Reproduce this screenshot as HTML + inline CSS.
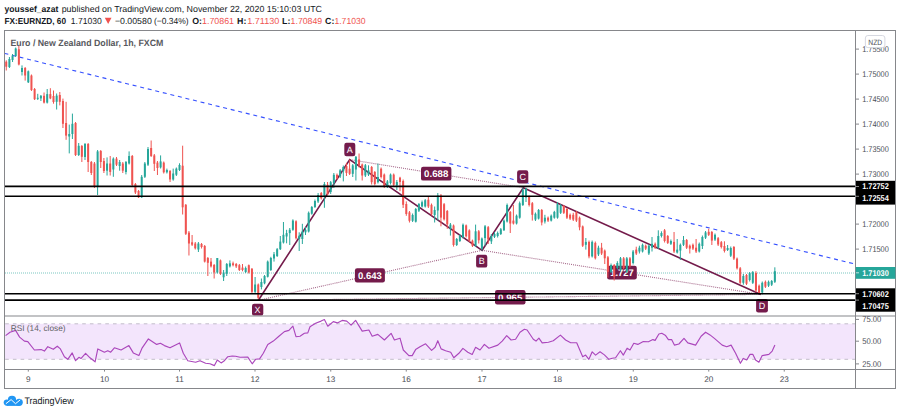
<!DOCTYPE html>
<html><head><meta charset="utf-8"><style>
html,body{margin:0;padding:0;background:#fff;}
body{width:900px;height:414px;overflow:hidden;}
svg{display:block;}
text{font-family:"Liberation Sans", sans-serif;text-rendering:geometricPrecision;}
</style></head><body>
<svg width="900" height="414" viewBox="0 0 900 414">
<rect x="0" y="0" width="900" height="414" fill="#fff"/>

<text x="4.40" y="11.7" font-size="8.8" font-weight="bold" fill="#131722" textLength="53.91" lengthAdjust="spacingAndGlyphs" >youssef_azat</text>
<text x="61.70" y="11.7" font-size="8.8" fill="#131722" textLength="260.29" lengthAdjust="spacingAndGlyphs" >published on TradingView.com, November 22, 2020 15:10:03 UTC</text>
<text x="4.40" y="23.7" font-size="8.8" font-weight="bold" fill="#131722" textLength="61.60" lengthAdjust="spacingAndGlyphs" >FX:EURNZD, 60</text>
<text x="70.80" y="23.7" font-size="8.8" fill="#131722" textLength="31.10" lengthAdjust="spacingAndGlyphs" >1.71030</text>
<polygon points="104.8,17.7 111.5,17.7 108.15,24.1" fill="#ef5350"/>
<text x="114.90" y="23.7" font-size="8.8" fill="#131722" textLength="36.89" lengthAdjust="spacingAndGlyphs" >−0.00580</text>
<text x="154.00" y="23.7" font-size="8.8" fill="#131722" textLength="34.60" lengthAdjust="spacingAndGlyphs" >(−0.34%)</text>
<text x="192.2" y="23.7" font-size="8.8" fill="#131722" font-weight="bold">O:</text>
<text x="202.00" y="23.7" font-size="8.8" fill="#ef5350" textLength="32.00" lengthAdjust="spacingAndGlyphs" >1.70861</text>
<text x="237.1" y="23.7" font-size="8.8" fill="#131722" font-weight="bold">H:</text>
<text x="247.30" y="23.7" font-size="8.8" fill="#ef5350" textLength="32.01" lengthAdjust="spacingAndGlyphs" >1.71130</text>
<text x="282.1" y="23.7" font-size="8.8" fill="#131722" font-weight="bold">L:</text>
<text x="290.60" y="23.7" font-size="8.8" fill="#ef5350" textLength="31.60" lengthAdjust="spacingAndGlyphs" >1.70849</text>
<text x="325.1" y="23.7" font-size="8.8" fill="#131722" font-weight="bold">C:</text>
<text x="334.40" y="23.7" font-size="8.8" fill="#ef5350" textLength="31.20" lengthAdjust="spacingAndGlyphs" >1.71030</text>
<rect x="4.5" y="323.8" width="851" height="35.5" fill="#f3e5fc"/>
<line x1="4.5" y1="323.8" x2="855.5" y2="323.8" stroke="#c2bdca" stroke-width="1" stroke-dasharray="3.6 4.1" stroke-dashoffset="-0.7"/>
<line x1="4.5" y1="359.3" x2="855.5" y2="359.3" stroke="#c2bdca" stroke-width="1" stroke-dasharray="3.6 4.1" stroke-dashoffset="-0.7"/>
<line x1="5" y1="53.5" x2="855.5" y2="264.2" stroke="#3550ff" stroke-width="1.1" stroke-dasharray="4 3.77" stroke-dashoffset="0.6"/>
<line x1="5" y1="273" x2="855" y2="273" stroke="#26a69a" stroke-width="1.1" stroke-dasharray="1 1" opacity="0.6"/>
<line x1="258.4" y1="300.3" x2="482.1" y2="250.3" stroke="#8a3a66" stroke-width="1.1" stroke-dasharray="1 1" opacity="0.75"/>
<line x1="349.7" y1="159.6" x2="523.3" y2="187.7" stroke="#8a3a66" stroke-width="1.1" stroke-dasharray="1 1" opacity="0.75"/>
<line x1="482.1" y1="250.3" x2="760.8" y2="294.4" stroke="#8a3a66" stroke-width="1.1" stroke-dasharray="1 1" opacity="0.75"/>
<line x1="258.4" y1="300.3" x2="760.8" y2="294.4" stroke="#8a3a66" stroke-width="1.1" stroke-dasharray="1 1" opacity="0.75"/>
<polyline points="258.4,300.3 349.7,159.6 482.1,250.3 523.3,187.7 760.8,294.4" fill="none" stroke="#741b4b" stroke-width="1.6" stroke-linejoin="miter"/>
<rect x="421" y="166.7" width="30.4" height="13.9" rx="2.2" fill="#741b4b"/>
<text x="424.10" y="177.05" font-size="9.6" font-weight="bold" fill="#fff" textLength="24.18" lengthAdjust="spacingAndGlyphs" >0.688</text>
<rect x="354.9" y="268.3" width="30.0" height="14.2" rx="2.2" fill="#741b4b"/>
<text x="358.00" y="278.8" font-size="9.6" font-weight="bold" fill="#fff" textLength="23.78" lengthAdjust="spacingAndGlyphs" >0.643</text>
<rect x="495" y="290" width="30.5" height="14.5" rx="2.2" fill="#741b4b"/>
<text x="498.10" y="300.65" font-size="9.6" font-weight="bold" fill="#fff" textLength="24.28" lengthAdjust="spacingAndGlyphs" >0.965</text>
<rect x="607.1" y="265.8" width="29.7" height="13.6" rx="2.2" fill="#741b4b"/>
<text x="610.20" y="276.0" font-size="9.6" font-weight="bold" fill="#fff" textLength="23.48" lengthAdjust="spacingAndGlyphs" >1.727</text>
<rect x="252" y="303.8" width="11.3" height="11.8" rx="2.2" fill="#741b4b"/>
<text x="257.6" y="312.8" font-size="9" fill="#fff" text-anchor="middle">X</text>
<rect x="344.3" y="142.7" width="11.0" height="13.5" rx="2.2" fill="#741b4b"/>
<text x="349.8" y="152.5" font-size="9" fill="#fff" text-anchor="middle">A</text>
<rect x="476.1" y="254.7" width="11.2" height="12.9" rx="2.2" fill="#741b4b"/>
<text x="481.7" y="264.2" font-size="9" fill="#fff" text-anchor="middle">B</text>
<rect x="517.1" y="170.2" width="11.2" height="13.2" rx="2.2" fill="#741b4b"/>
<text x="522.7" y="179.9" font-size="9" fill="#fff" text-anchor="middle">C</text>
<rect x="756.1" y="299.1" width="11.8" height="13.4" rx="2.2" fill="#741b4b"/>
<text x="762.0" y="308.9" font-size="9" fill="#fff" text-anchor="middle">D</text>
<line x1="6.25" y1="60.3" x2="6.25" y2="70.5" stroke="#ef5350" stroke-width="1"/>
<rect x="5.25" y="61.7" width="2.0" height="5.0" fill="#ef5350"/>
<line x1="9.40" y1="57.0" x2="9.40" y2="68.0" stroke="#26a69a" stroke-width="1"/>
<rect x="8.40" y="59.0" width="2.0" height="8.0" fill="#26a69a"/>
<line x1="12.55" y1="54.0" x2="12.55" y2="62.0" stroke="#26a69a" stroke-width="1"/>
<rect x="11.55" y="55.6" width="2.0" height="4.4" fill="#26a69a"/>
<line x1="15.70" y1="47.5" x2="15.70" y2="57.0" stroke="#26a69a" stroke-width="1"/>
<rect x="14.70" y="48.5" width="2.0" height="7.5" fill="#26a69a"/>
<line x1="18.85" y1="46.0" x2="18.85" y2="65.4" stroke="#ef5350" stroke-width="1"/>
<rect x="17.85" y="49.3" width="2.0" height="15.2" fill="#ef5350"/>
<line x1="22.00" y1="65.4" x2="22.00" y2="75.5" stroke="#26a69a" stroke-width="1"/>
<rect x="21.00" y="68.0" width="2.0" height="4.0" fill="#26a69a"/>
<line x1="25.15" y1="67.0" x2="25.15" y2="80.6" stroke="#ef5350" stroke-width="1"/>
<rect x="24.15" y="68.0" width="2.0" height="7.5" fill="#ef5350"/>
<line x1="28.30" y1="70.5" x2="28.30" y2="83.0" stroke="#26a69a" stroke-width="1"/>
<rect x="27.30" y="71.3" width="2.0" height="11.0" fill="#26a69a"/>
<line x1="31.45" y1="74.5" x2="31.45" y2="91.0" stroke="#ef5350" stroke-width="1"/>
<rect x="30.45" y="75.5" width="2.0" height="14.5" fill="#ef5350"/>
<line x1="34.60" y1="88.0" x2="34.60" y2="100.0" stroke="#ef5350" stroke-width="1"/>
<rect x="33.60" y="89.0" width="2.0" height="10.2" fill="#ef5350"/>
<line x1="37.75" y1="93.8" x2="37.75" y2="100.0" stroke="#26a69a" stroke-width="1"/>
<rect x="36.75" y="97.8" width="2.0" height="1.0" fill="#26a69a"/>
<line x1="40.90" y1="95.0" x2="40.90" y2="101.0" stroke="#26a69a" stroke-width="1"/>
<rect x="39.90" y="95.8" width="2.0" height="2.6" fill="#26a69a"/>
<line x1="44.05" y1="92.5" x2="44.05" y2="103.5" stroke="#ef5350" stroke-width="1"/>
<rect x="43.05" y="95.8" width="2.0" height="6.8" fill="#ef5350"/>
<line x1="47.20" y1="89.0" x2="47.20" y2="103.5" stroke="#26a69a" stroke-width="1"/>
<rect x="46.20" y="94.1" width="2.0" height="8.5" fill="#26a69a"/>
<line x1="50.35" y1="88.2" x2="50.35" y2="99.2" stroke="#ef5350" stroke-width="1"/>
<rect x="49.35" y="94.1" width="2.0" height="4.3" fill="#ef5350"/>
<line x1="53.50" y1="90.5" x2="53.50" y2="103.7" stroke="#ef5350" stroke-width="1"/>
<rect x="52.50" y="96.0" width="2.0" height="6.0" fill="#ef5350"/>
<line x1="56.65" y1="93.5" x2="56.65" y2="109.5" stroke="#26a69a" stroke-width="1"/>
<rect x="55.65" y="95.6" width="2.0" height="6.2" fill="#26a69a"/>
<line x1="59.80" y1="92.0" x2="59.80" y2="105.4" stroke="#ef5350" stroke-width="1"/>
<rect x="58.80" y="95.0" width="2.0" height="6.8" fill="#ef5350"/>
<line x1="62.95" y1="98.6" x2="62.95" y2="128.0" stroke="#ef5350" stroke-width="1"/>
<rect x="61.95" y="101.0" width="2.0" height="22.8" fill="#ef5350"/>
<line x1="66.10" y1="101.8" x2="66.10" y2="139.8" stroke="#ef5350" stroke-width="1"/>
<rect x="65.10" y="123.0" width="2.0" height="12.6" fill="#ef5350"/>
<line x1="69.25" y1="124.6" x2="69.25" y2="153.4" stroke="#26a69a" stroke-width="1"/>
<rect x="68.25" y="134.0" width="2.0" height="2.5" fill="#26a69a"/>
<line x1="72.40" y1="113.6" x2="72.40" y2="139.0" stroke="#26a69a" stroke-width="1"/>
<rect x="71.40" y="123.8" width="2.0" height="10.2" fill="#26a69a"/>
<line x1="75.55" y1="122.0" x2="75.55" y2="156.0" stroke="#ef5350" stroke-width="1"/>
<rect x="74.55" y="123.0" width="2.0" height="32.0" fill="#ef5350"/>
<line x1="78.70" y1="143.0" x2="78.70" y2="156.0" stroke="#26a69a" stroke-width="1"/>
<rect x="77.70" y="145.8" width="2.0" height="9.2" fill="#26a69a"/>
<line x1="81.85" y1="145.0" x2="81.85" y2="162.0" stroke="#ef5350" stroke-width="1"/>
<rect x="80.85" y="146.0" width="2.0" height="10.8" fill="#ef5350"/>
<line x1="85.00" y1="143.0" x2="85.00" y2="160.0" stroke="#26a69a" stroke-width="1"/>
<rect x="84.00" y="144.0" width="2.0" height="13.0" fill="#26a69a"/>
<line x1="88.15" y1="143.0" x2="88.15" y2="172.0" stroke="#ef5350" stroke-width="1"/>
<rect x="87.15" y="144.0" width="2.0" height="18.0" fill="#ef5350"/>
<line x1="91.30" y1="161.0" x2="91.30" y2="175.0" stroke="#ef5350" stroke-width="1"/>
<rect x="90.30" y="162.0" width="2.0" height="11.0" fill="#ef5350"/>
<line x1="94.45" y1="162.0" x2="94.45" y2="188.0" stroke="#ef5350" stroke-width="1"/>
<rect x="93.45" y="163.5" width="2.0" height="22.9" fill="#ef5350"/>
<line x1="97.60" y1="150.0" x2="97.60" y2="195.0" stroke="#26a69a" stroke-width="1"/>
<rect x="96.60" y="151.4" width="2.0" height="35.0" fill="#26a69a"/>
<line x1="100.75" y1="150.0" x2="100.75" y2="168.0" stroke="#ef5350" stroke-width="1"/>
<rect x="99.75" y="151.0" width="2.0" height="11.0" fill="#ef5350"/>
<line x1="103.90" y1="158.0" x2="103.90" y2="173.0" stroke="#ef5350" stroke-width="1"/>
<rect x="102.90" y="161.0" width="2.0" height="10.0" fill="#ef5350"/>
<line x1="107.05" y1="157.4" x2="107.05" y2="175.5" stroke="#26a69a" stroke-width="1"/>
<rect x="106.05" y="163.5" width="2.0" height="7.2" fill="#26a69a"/>
<line x1="110.20" y1="156.0" x2="110.20" y2="175.5" stroke="#ef5350" stroke-width="1"/>
<rect x="109.20" y="163.5" width="2.0" height="8.4" fill="#ef5350"/>
<line x1="113.35" y1="157.4" x2="113.35" y2="176.8" stroke="#26a69a" stroke-width="1"/>
<rect x="112.35" y="158.6" width="2.0" height="10.9" fill="#26a69a"/>
<line x1="116.50" y1="157.0" x2="116.50" y2="166.0" stroke="#ef5350" stroke-width="1"/>
<rect x="115.50" y="158.6" width="2.0" height="6.1" fill="#ef5350"/>
<line x1="119.65" y1="160.0" x2="119.65" y2="170.7" stroke="#26a69a" stroke-width="1"/>
<rect x="118.65" y="162.0" width="2.0" height="4.0" fill="#26a69a"/>
<line x1="122.80" y1="162.0" x2="122.80" y2="173.0" stroke="#ef5350" stroke-width="1"/>
<rect x="121.80" y="163.5" width="2.0" height="7.2" fill="#ef5350"/>
<line x1="125.95" y1="161.0" x2="125.95" y2="174.4" stroke="#26a69a" stroke-width="1"/>
<rect x="124.95" y="162.0" width="2.0" height="10.0" fill="#26a69a"/>
<line x1="129.10" y1="151.4" x2="129.10" y2="164.5" stroke="#26a69a" stroke-width="1"/>
<rect x="128.10" y="156.0" width="2.0" height="7.5" fill="#26a69a"/>
<line x1="132.25" y1="155.0" x2="132.25" y2="186.4" stroke="#ef5350" stroke-width="1"/>
<rect x="131.25" y="156.0" width="2.0" height="29.0" fill="#ef5350"/>
<line x1="135.40" y1="183.0" x2="135.40" y2="194.0" stroke="#ef5350" stroke-width="1"/>
<rect x="134.40" y="184.0" width="2.0" height="8.5" fill="#ef5350"/>
<line x1="138.55" y1="190.0" x2="138.55" y2="198.0" stroke="#ef5350" stroke-width="1"/>
<rect x="137.55" y="191.0" width="2.0" height="6.3" fill="#ef5350"/>
<line x1="141.70" y1="175.0" x2="141.70" y2="198.0" stroke="#26a69a" stroke-width="1"/>
<rect x="140.70" y="176.8" width="2.0" height="20.5" fill="#26a69a"/>
<line x1="144.85" y1="162.0" x2="144.85" y2="178.0" stroke="#26a69a" stroke-width="1"/>
<rect x="143.85" y="163.5" width="2.0" height="13.3" fill="#26a69a"/>
<line x1="148.00" y1="147.0" x2="148.00" y2="166.0" stroke="#26a69a" stroke-width="1"/>
<rect x="147.00" y="149.0" width="2.0" height="15.7" fill="#26a69a"/>
<line x1="151.15" y1="140.5" x2="151.15" y2="157.0" stroke="#ef5350" stroke-width="1"/>
<rect x="150.15" y="148.0" width="2.0" height="8.0" fill="#ef5350"/>
<line x1="154.30" y1="154.0" x2="154.30" y2="171.0" stroke="#ef5350" stroke-width="1"/>
<rect x="153.30" y="155.4" width="2.0" height="8.4" fill="#ef5350"/>
<line x1="157.45" y1="161.0" x2="157.45" y2="175.0" stroke="#ef5350" stroke-width="1"/>
<rect x="156.45" y="162.6" width="2.0" height="5.4" fill="#ef5350"/>
<line x1="160.60" y1="155.4" x2="160.60" y2="168.5" stroke="#26a69a" stroke-width="1"/>
<rect x="159.60" y="161.4" width="2.0" height="6.0" fill="#26a69a"/>
<line x1="163.75" y1="161.5" x2="163.75" y2="173.5" stroke="#ef5350" stroke-width="1"/>
<rect x="162.75" y="162.6" width="2.0" height="9.7" fill="#ef5350"/>
<line x1="166.90" y1="168.6" x2="166.90" y2="173.5" stroke="#26a69a" stroke-width="1"/>
<rect x="165.90" y="170.0" width="2.0" height="2.3" fill="#26a69a"/>
<line x1="170.05" y1="170.0" x2="170.05" y2="182.0" stroke="#ef5350" stroke-width="1"/>
<rect x="169.05" y="171.0" width="2.0" height="8.5" fill="#ef5350"/>
<line x1="173.20" y1="168.6" x2="173.20" y2="180.7" stroke="#26a69a" stroke-width="1"/>
<rect x="172.20" y="173.5" width="2.0" height="6.0" fill="#26a69a"/>
<line x1="176.35" y1="167.5" x2="176.35" y2="176.0" stroke="#26a69a" stroke-width="1"/>
<rect x="175.35" y="168.6" width="2.0" height="6.1" fill="#26a69a"/>
<line x1="179.50" y1="163.3" x2="179.50" y2="171.0" stroke="#26a69a" stroke-width="1"/>
<rect x="178.50" y="165.0" width="2.0" height="5.0" fill="#26a69a"/>
<line x1="182.65" y1="145.7" x2="182.65" y2="214.5" stroke="#ef5350" stroke-width="1"/>
<rect x="181.65" y="165.7" width="2.0" height="41.6" fill="#ef5350"/>
<line x1="185.80" y1="204.0" x2="185.80" y2="235.0" stroke="#ef5350" stroke-width="1"/>
<rect x="184.80" y="204.8" width="2.0" height="29.0" fill="#ef5350"/>
<line x1="188.95" y1="231.0" x2="188.95" y2="255.5" stroke="#ef5350" stroke-width="1"/>
<rect x="187.95" y="232.6" width="2.0" height="10.9" fill="#ef5350"/>
<line x1="192.10" y1="235.0" x2="192.10" y2="246.0" stroke="#ef5350" stroke-width="1"/>
<rect x="191.10" y="242.3" width="2.0" height="2.4" fill="#ef5350"/>
<line x1="195.25" y1="242.0" x2="195.25" y2="249.5" stroke="#ef5350" stroke-width="1"/>
<rect x="194.25" y="243.5" width="2.0" height="4.8" fill="#ef5350"/>
<line x1="198.40" y1="242.0" x2="198.40" y2="252.0" stroke="#26a69a" stroke-width="1"/>
<rect x="197.40" y="243.5" width="2.0" height="6.0" fill="#26a69a"/>
<line x1="201.55" y1="243.0" x2="201.55" y2="248.5" stroke="#ef5350" stroke-width="1"/>
<rect x="200.55" y="244.0" width="2.0" height="3.0" fill="#ef5350"/>
<line x1="204.70" y1="245.0" x2="204.70" y2="262.5" stroke="#ef5350" stroke-width="1"/>
<rect x="203.70" y="246.0" width="2.0" height="15.6" fill="#ef5350"/>
<line x1="207.85" y1="257.0" x2="207.85" y2="276.0" stroke="#ef5350" stroke-width="1"/>
<rect x="206.85" y="258.0" width="2.0" height="4.8" fill="#ef5350"/>
<line x1="211.00" y1="258.0" x2="211.00" y2="267.5" stroke="#ef5350" stroke-width="1"/>
<rect x="210.00" y="261.6" width="2.0" height="4.8" fill="#ef5350"/>
<line x1="214.15" y1="264.0" x2="214.15" y2="278.5" stroke="#ef5350" stroke-width="1"/>
<rect x="213.15" y="265.0" width="2.0" height="7.5" fill="#ef5350"/>
<line x1="217.30" y1="258.0" x2="217.30" y2="273.5" stroke="#26a69a" stroke-width="1"/>
<rect x="216.30" y="258.0" width="2.0" height="14.5" fill="#26a69a"/>
<line x1="220.45" y1="259.5" x2="220.45" y2="275.0" stroke="#ef5350" stroke-width="1"/>
<rect x="219.45" y="260.4" width="2.0" height="13.3" fill="#ef5350"/>
<line x1="223.60" y1="270.0" x2="223.60" y2="281.0" stroke="#26a69a" stroke-width="1"/>
<rect x="222.60" y="272.5" width="2.0" height="4.8" fill="#26a69a"/>
<line x1="226.75" y1="263.0" x2="226.75" y2="276.0" stroke="#26a69a" stroke-width="1"/>
<rect x="225.75" y="264.0" width="2.0" height="9.7" fill="#26a69a"/>
<line x1="229.90" y1="260.4" x2="229.90" y2="267.5" stroke="#26a69a" stroke-width="1"/>
<rect x="228.90" y="263.3" width="2.0" height="3.1" fill="#26a69a"/>
<line x1="233.05" y1="261.6" x2="233.05" y2="266.4" stroke="#ef5350" stroke-width="1"/>
<rect x="232.05" y="263.3" width="2.0" height="1.9" fill="#ef5350"/>
<line x1="236.20" y1="263.0" x2="236.20" y2="268.0" stroke="#ef5350" stroke-width="1"/>
<rect x="235.20" y="264.0" width="2.0" height="2.4" fill="#ef5350"/>
<line x1="239.35" y1="264.0" x2="239.35" y2="271.0" stroke="#ef5350" stroke-width="1"/>
<rect x="238.35" y="265.2" width="2.0" height="4.8" fill="#ef5350"/>
<line x1="242.50" y1="264.0" x2="242.50" y2="271.3" stroke="#ef5350" stroke-width="1"/>
<rect x="241.50" y="267.6" width="2.0" height="2.4" fill="#ef5350"/>
<line x1="245.65" y1="266.5" x2="245.65" y2="273.0" stroke="#26a69a" stroke-width="1"/>
<rect x="244.65" y="268.0" width="2.0" height="4.0" fill="#26a69a"/>
<line x1="248.80" y1="264.5" x2="248.80" y2="273.5" stroke="#ef5350" stroke-width="1"/>
<rect x="247.80" y="265.2" width="2.0" height="7.3" fill="#ef5350"/>
<line x1="251.95" y1="268.0" x2="251.95" y2="293.0" stroke="#ef5350" stroke-width="1"/>
<rect x="250.95" y="268.8" width="2.0" height="23.0" fill="#ef5350"/>
<line x1="255.10" y1="277.0" x2="255.10" y2="293.0" stroke="#26a69a" stroke-width="1"/>
<rect x="254.10" y="284.5" width="2.0" height="7.3" fill="#26a69a"/>
<line x1="258.25" y1="283.5" x2="258.25" y2="300.3" stroke="#ef5350" stroke-width="1"/>
<rect x="257.25" y="284.5" width="2.0" height="13.3" fill="#ef5350"/>
<line x1="261.40" y1="278.5" x2="261.40" y2="289.4" stroke="#26a69a" stroke-width="1"/>
<rect x="260.40" y="282.0" width="2.0" height="5.0" fill="#26a69a"/>
<line x1="264.55" y1="275.0" x2="264.55" y2="284.3" stroke="#26a69a" stroke-width="1"/>
<rect x="263.55" y="276.0" width="2.0" height="7.3" fill="#26a69a"/>
<line x1="267.70" y1="260.5" x2="267.70" y2="277.5" stroke="#26a69a" stroke-width="1"/>
<rect x="266.70" y="261.6" width="2.0" height="15.2" fill="#26a69a"/>
<line x1="270.85" y1="256.8" x2="270.85" y2="271.0" stroke="#26a69a" stroke-width="1"/>
<rect x="269.85" y="258.0" width="2.0" height="12.0" fill="#26a69a"/>
<line x1="274.00" y1="252.0" x2="274.00" y2="261.6" stroke="#26a69a" stroke-width="1"/>
<rect x="273.00" y="254.3" width="2.0" height="4.2" fill="#26a69a"/>
<line x1="277.15" y1="248.0" x2="277.15" y2="257.0" stroke="#26a69a" stroke-width="1"/>
<rect x="276.15" y="249.2" width="2.0" height="6.8" fill="#26a69a"/>
<line x1="280.30" y1="236.0" x2="280.30" y2="250.0" stroke="#26a69a" stroke-width="1"/>
<rect x="279.30" y="241.6" width="2.0" height="7.6" fill="#26a69a"/>
<line x1="283.45" y1="222.0" x2="283.45" y2="243.5" stroke="#26a69a" stroke-width="1"/>
<rect x="282.45" y="234.8" width="2.0" height="7.7" fill="#26a69a"/>
<line x1="286.60" y1="229.8" x2="286.60" y2="243.3" stroke="#26a69a" stroke-width="1"/>
<rect x="285.60" y="233.1" width="2.0" height="3.4" fill="#26a69a"/>
<line x1="289.75" y1="228.0" x2="289.75" y2="245.0" stroke="#26a69a" stroke-width="1"/>
<rect x="288.75" y="229.8" width="2.0" height="3.3" fill="#26a69a"/>
<line x1="292.90" y1="219.3" x2="292.90" y2="230.8" stroke="#26a69a" stroke-width="1"/>
<rect x="291.90" y="220.5" width="2.0" height="9.3" fill="#26a69a"/>
<line x1="296.05" y1="220.3" x2="296.05" y2="239.5" stroke="#ef5350" stroke-width="1"/>
<rect x="295.05" y="221.3" width="2.0" height="16.9" fill="#ef5350"/>
<line x1="299.20" y1="232.3" x2="299.20" y2="251.0" stroke="#26a69a" stroke-width="1"/>
<rect x="298.20" y="235.7" width="2.0" height="3.3" fill="#26a69a"/>
<line x1="302.35" y1="223.8" x2="302.35" y2="244.0" stroke="#26a69a" stroke-width="1"/>
<rect x="301.35" y="231.5" width="2.0" height="7.5" fill="#26a69a"/>
<line x1="305.50" y1="227.0" x2="305.50" y2="235.0" stroke="#26a69a" stroke-width="1"/>
<rect x="304.50" y="229.8" width="2.0" height="2.5" fill="#26a69a"/>
<line x1="308.65" y1="211.5" x2="308.65" y2="232.5" stroke="#26a69a" stroke-width="1"/>
<rect x="307.65" y="212.8" width="2.0" height="18.7" fill="#26a69a"/>
<line x1="311.80" y1="206.0" x2="311.80" y2="214.7" stroke="#26a69a" stroke-width="1"/>
<rect x="310.80" y="207.0" width="2.0" height="6.7" fill="#26a69a"/>
<line x1="314.95" y1="199.5" x2="314.95" y2="208.0" stroke="#26a69a" stroke-width="1"/>
<rect x="313.95" y="201.0" width="2.0" height="6.0" fill="#26a69a"/>
<line x1="318.10" y1="193.0" x2="318.10" y2="203.0" stroke="#26a69a" stroke-width="1"/>
<rect x="317.10" y="195.0" width="2.0" height="6.5" fill="#26a69a"/>
<line x1="321.25" y1="192.0" x2="321.25" y2="199.5" stroke="#ef5350" stroke-width="1"/>
<rect x="320.25" y="193.0" width="2.0" height="5.3" fill="#ef5350"/>
<line x1="324.40" y1="182.0" x2="324.40" y2="207.8" stroke="#26a69a" stroke-width="1"/>
<rect x="323.40" y="184.0" width="2.0" height="13.0" fill="#26a69a"/>
<line x1="327.55" y1="182.0" x2="327.55" y2="195.5" stroke="#ef5350" stroke-width="1"/>
<rect x="326.55" y="184.7" width="2.0" height="9.6" fill="#ef5350"/>
<line x1="330.70" y1="181.0" x2="330.70" y2="194.0" stroke="#26a69a" stroke-width="1"/>
<rect x="329.70" y="182.2" width="2.0" height="9.8" fill="#26a69a"/>
<line x1="333.85" y1="173.0" x2="333.85" y2="188.0" stroke="#26a69a" stroke-width="1"/>
<rect x="332.85" y="174.8" width="2.0" height="8.2" fill="#26a69a"/>
<line x1="337.00" y1="173.5" x2="337.00" y2="179.5" stroke="#ef5350" stroke-width="1"/>
<rect x="336.00" y="174.8" width="2.0" height="3.5" fill="#ef5350"/>
<line x1="340.15" y1="169.0" x2="340.15" y2="178.0" stroke="#26a69a" stroke-width="1"/>
<rect x="339.15" y="170.3" width="2.0" height="6.2" fill="#26a69a"/>
<line x1="343.30" y1="165.5" x2="343.30" y2="181.4" stroke="#26a69a" stroke-width="1"/>
<rect x="342.30" y="167.0" width="2.0" height="4.2" fill="#26a69a"/>
<line x1="346.45" y1="162.8" x2="346.45" y2="176.0" stroke="#ef5350" stroke-width="1"/>
<rect x="345.45" y="166.0" width="2.0" height="6.9" fill="#ef5350"/>
<line x1="349.60" y1="159.6" x2="349.60" y2="175.0" stroke="#ef5350" stroke-width="1"/>
<rect x="348.60" y="168.7" width="2.0" height="5.1" fill="#ef5350"/>
<line x1="352.75" y1="164.0" x2="352.75" y2="177.0" stroke="#26a69a" stroke-width="1"/>
<rect x="351.75" y="165.3" width="2.0" height="8.5" fill="#26a69a"/>
<line x1="355.90" y1="156.0" x2="355.90" y2="180.5" stroke="#26a69a" stroke-width="1"/>
<rect x="354.90" y="156.8" width="2.0" height="12.7" fill="#26a69a"/>
<line x1="359.05" y1="153.5" x2="359.05" y2="167.5" stroke="#ef5350" stroke-width="1"/>
<rect x="358.05" y="159.4" width="2.0" height="5.9" fill="#ef5350"/>
<line x1="362.20" y1="163.5" x2="362.20" y2="180.5" stroke="#ef5350" stroke-width="1"/>
<rect x="361.20" y="164.5" width="2.0" height="11.0" fill="#ef5350"/>
<line x1="365.35" y1="164.0" x2="365.35" y2="177.0" stroke="#26a69a" stroke-width="1"/>
<rect x="364.35" y="165.3" width="2.0" height="10.2" fill="#26a69a"/>
<line x1="368.50" y1="165.3" x2="368.50" y2="176.0" stroke="#26a69a" stroke-width="1"/>
<rect x="367.50" y="170.4" width="2.0" height="4.2" fill="#26a69a"/>
<line x1="371.65" y1="166.0" x2="371.65" y2="184.5" stroke="#ef5350" stroke-width="1"/>
<rect x="370.65" y="167.0" width="2.0" height="15.2" fill="#ef5350"/>
<line x1="374.80" y1="171.0" x2="374.80" y2="185.5" stroke="#ef5350" stroke-width="1"/>
<rect x="373.80" y="172.0" width="2.0" height="12.0" fill="#ef5350"/>
<line x1="377.95" y1="163.6" x2="377.95" y2="183.5" stroke="#26a69a" stroke-width="1"/>
<rect x="376.95" y="177.0" width="2.0" height="5.2" fill="#26a69a"/>
<line x1="381.10" y1="167.5" x2="381.10" y2="178.5" stroke="#ef5350" stroke-width="1"/>
<rect x="380.10" y="168.7" width="2.0" height="8.3" fill="#ef5350"/>
<line x1="384.25" y1="173.5" x2="384.25" y2="188.0" stroke="#ef5350" stroke-width="1"/>
<rect x="383.25" y="174.6" width="2.0" height="11.9" fill="#ef5350"/>
<line x1="387.40" y1="180.0" x2="387.40" y2="188.0" stroke="#26a69a" stroke-width="1"/>
<rect x="386.40" y="181.4" width="2.0" height="5.1" fill="#26a69a"/>
<line x1="390.55" y1="173.5" x2="390.55" y2="184.5" stroke="#26a69a" stroke-width="1"/>
<rect x="389.55" y="174.6" width="2.0" height="8.4" fill="#26a69a"/>
<line x1="393.70" y1="173.5" x2="393.70" y2="186.0" stroke="#ef5350" stroke-width="1"/>
<rect x="392.70" y="174.6" width="2.0" height="10.2" fill="#ef5350"/>
<line x1="396.85" y1="180.0" x2="396.85" y2="190.0" stroke="#26a69a" stroke-width="1"/>
<rect x="395.85" y="182.0" width="2.0" height="3.3" fill="#26a69a"/>
<line x1="400.00" y1="176.8" x2="400.00" y2="191.2" stroke="#ef5350" stroke-width="1"/>
<rect x="399.00" y="177.7" width="2.0" height="4.3" fill="#ef5350"/>
<line x1="403.15" y1="179.5" x2="403.15" y2="208.0" stroke="#ef5350" stroke-width="1"/>
<rect x="402.15" y="181.0" width="2.0" height="23.8" fill="#ef5350"/>
<line x1="406.30" y1="201.4" x2="406.30" y2="215.8" stroke="#ef5350" stroke-width="1"/>
<rect x="405.30" y="204.0" width="2.0" height="10.0" fill="#ef5350"/>
<line x1="409.45" y1="211.0" x2="409.45" y2="222.5" stroke="#ef5350" stroke-width="1"/>
<rect x="408.45" y="212.4" width="2.0" height="8.4" fill="#ef5350"/>
<line x1="412.60" y1="213.5" x2="412.60" y2="222.0" stroke="#26a69a" stroke-width="1"/>
<rect x="411.60" y="215.0" width="2.0" height="5.8" fill="#26a69a"/>
<line x1="415.75" y1="208.0" x2="415.75" y2="222.5" stroke="#26a69a" stroke-width="1"/>
<rect x="414.75" y="209.0" width="2.0" height="12.7" fill="#26a69a"/>
<line x1="418.90" y1="203.0" x2="418.90" y2="212.0" stroke="#26a69a" stroke-width="1"/>
<rect x="417.90" y="204.0" width="2.0" height="6.7" fill="#26a69a"/>
<line x1="422.05" y1="200.5" x2="422.05" y2="207.5" stroke="#26a69a" stroke-width="1"/>
<rect x="421.05" y="202.2" width="2.0" height="4.3" fill="#26a69a"/>
<line x1="425.20" y1="199.0" x2="425.20" y2="207.5" stroke="#26a69a" stroke-width="1"/>
<rect x="424.20" y="200.2" width="2.0" height="6.3" fill="#26a69a"/>
<line x1="428.35" y1="196.3" x2="428.35" y2="208.0" stroke="#ef5350" stroke-width="1"/>
<rect x="427.35" y="199.7" width="2.0" height="6.8" fill="#ef5350"/>
<line x1="431.50" y1="203.5" x2="431.50" y2="215.5" stroke="#ef5350" stroke-width="1"/>
<rect x="430.50" y="204.8" width="2.0" height="9.5" fill="#ef5350"/>
<line x1="434.65" y1="206.5" x2="434.65" y2="222.5" stroke="#26a69a" stroke-width="1"/>
<rect x="433.65" y="210.0" width="2.0" height="5.0" fill="#26a69a"/>
<line x1="437.80" y1="193.0" x2="437.80" y2="220.5" stroke="#26a69a" stroke-width="1"/>
<rect x="436.80" y="195.5" width="2.0" height="15.0" fill="#26a69a"/>
<line x1="440.95" y1="194.0" x2="440.95" y2="226.3" stroke="#ef5350" stroke-width="1"/>
<rect x="439.95" y="195.5" width="2.0" height="22.1" fill="#ef5350"/>
<line x1="444.10" y1="203.0" x2="444.10" y2="220.5" stroke="#ef5350" stroke-width="1"/>
<rect x="443.10" y="204.2" width="2.0" height="15.1" fill="#ef5350"/>
<line x1="447.25" y1="210.0" x2="447.25" y2="228.8" stroke="#ef5350" stroke-width="1"/>
<rect x="446.25" y="211.0" width="2.0" height="13.4" fill="#ef5350"/>
<line x1="450.40" y1="223.0" x2="450.40" y2="235.6" stroke="#26a69a" stroke-width="1"/>
<rect x="449.40" y="224.6" width="2.0" height="4.2" fill="#26a69a"/>
<line x1="453.55" y1="224.5" x2="453.55" y2="246.6" stroke="#ef5350" stroke-width="1"/>
<rect x="452.55" y="225.5" width="2.0" height="19.5" fill="#ef5350"/>
<line x1="456.70" y1="238.0" x2="456.70" y2="246.0" stroke="#26a69a" stroke-width="1"/>
<rect x="455.70" y="239.0" width="2.0" height="6.0" fill="#26a69a"/>
<line x1="459.85" y1="234.5" x2="459.85" y2="242.0" stroke="#26a69a" stroke-width="1"/>
<rect x="458.85" y="235.6" width="2.0" height="5.4" fill="#26a69a"/>
<line x1="463.00" y1="223.5" x2="463.00" y2="238.5" stroke="#26a69a" stroke-width="1"/>
<rect x="462.00" y="224.8" width="2.0" height="12.4" fill="#26a69a"/>
<line x1="466.15" y1="224.5" x2="466.15" y2="237.5" stroke="#ef5350" stroke-width="1"/>
<rect x="465.15" y="225.4" width="2.0" height="10.9" fill="#ef5350"/>
<line x1="469.30" y1="229.3" x2="469.30" y2="242.0" stroke="#ef5350" stroke-width="1"/>
<rect x="468.30" y="230.4" width="2.0" height="10.3" fill="#ef5350"/>
<line x1="472.45" y1="239.6" x2="472.45" y2="247.0" stroke="#ef5350" stroke-width="1"/>
<rect x="471.45" y="240.7" width="2.0" height="5.0" fill="#ef5350"/>
<line x1="475.60" y1="224.6" x2="475.60" y2="247.0" stroke="#26a69a" stroke-width="1"/>
<rect x="474.60" y="231.3" width="2.0" height="14.4" fill="#26a69a"/>
<line x1="478.75" y1="230.0" x2="478.75" y2="243.5" stroke="#ef5350" stroke-width="1"/>
<rect x="477.75" y="231.3" width="2.0" height="9.0" fill="#ef5350"/>
<line x1="481.90" y1="237.5" x2="481.90" y2="250.6" stroke="#26a69a" stroke-width="1"/>
<rect x="480.90" y="238.5" width="2.0" height="10.3" fill="#26a69a"/>
<line x1="485.05" y1="225.0" x2="485.05" y2="245.8" stroke="#26a69a" stroke-width="1"/>
<rect x="484.05" y="226.3" width="2.0" height="11.8" fill="#26a69a"/>
<line x1="488.20" y1="226.0" x2="488.20" y2="244.0" stroke="#ef5350" stroke-width="1"/>
<rect x="487.20" y="227.2" width="2.0" height="12.3" fill="#ef5350"/>
<line x1="491.35" y1="234.0" x2="491.35" y2="244.0" stroke="#26a69a" stroke-width="1"/>
<rect x="490.35" y="236.2" width="2.0" height="5.2" fill="#26a69a"/>
<line x1="494.50" y1="232.0" x2="494.50" y2="238.0" stroke="#26a69a" stroke-width="1"/>
<rect x="493.50" y="234.0" width="2.0" height="2.8" fill="#26a69a"/>
<line x1="497.65" y1="231.5" x2="497.65" y2="237.5" stroke="#26a69a" stroke-width="1"/>
<rect x="496.65" y="233.0" width="2.0" height="3.0" fill="#26a69a"/>
<line x1="500.80" y1="228.0" x2="500.80" y2="235.0" stroke="#26a69a" stroke-width="1"/>
<rect x="499.80" y="229.3" width="2.0" height="4.7" fill="#26a69a"/>
<line x1="503.95" y1="219.5" x2="503.95" y2="231.0" stroke="#26a69a" stroke-width="1"/>
<rect x="502.95" y="220.6" width="2.0" height="9.6" fill="#26a69a"/>
<line x1="507.10" y1="203.5" x2="507.10" y2="222.5" stroke="#26a69a" stroke-width="1"/>
<rect x="506.10" y="205.0" width="2.0" height="16.5" fill="#26a69a"/>
<line x1="510.25" y1="211.0" x2="510.25" y2="233.0" stroke="#ef5350" stroke-width="1"/>
<rect x="509.25" y="212.0" width="2.0" height="11.5" fill="#ef5350"/>
<line x1="513.40" y1="205.0" x2="513.40" y2="224.5" stroke="#ef5350" stroke-width="1"/>
<rect x="512.40" y="220.6" width="2.0" height="2.9" fill="#ef5350"/>
<line x1="516.55" y1="214.5" x2="516.55" y2="224.5" stroke="#26a69a" stroke-width="1"/>
<rect x="515.55" y="215.7" width="2.0" height="7.8" fill="#26a69a"/>
<line x1="519.70" y1="201.5" x2="519.70" y2="218.7" stroke="#26a69a" stroke-width="1"/>
<rect x="518.70" y="203.2" width="2.0" height="14.5" fill="#26a69a"/>
<line x1="522.85" y1="187.7" x2="522.85" y2="206.0" stroke="#26a69a" stroke-width="1"/>
<rect x="521.85" y="189.7" width="2.0" height="15.3" fill="#26a69a"/>
<line x1="526.00" y1="187.7" x2="526.00" y2="202.0" stroke="#26a69a" stroke-width="1"/>
<rect x="525.00" y="188.7" width="2.0" height="8.7" fill="#26a69a"/>
<line x1="529.15" y1="195.5" x2="529.15" y2="206.5" stroke="#ef5350" stroke-width="1"/>
<rect x="528.15" y="196.4" width="2.0" height="8.6" fill="#ef5350"/>
<line x1="532.30" y1="202.0" x2="532.30" y2="220.6" stroke="#ef5350" stroke-width="1"/>
<rect x="531.30" y="203.2" width="2.0" height="11.6" fill="#ef5350"/>
<line x1="535.45" y1="212.5" x2="535.45" y2="221.0" stroke="#26a69a" stroke-width="1"/>
<rect x="534.45" y="213.8" width="2.0" height="5.8" fill="#26a69a"/>
<line x1="538.60" y1="209.0" x2="538.60" y2="219.5" stroke="#26a69a" stroke-width="1"/>
<rect x="537.60" y="210.0" width="2.0" height="8.6" fill="#26a69a"/>
<line x1="541.75" y1="209.0" x2="541.75" y2="225.4" stroke="#ef5350" stroke-width="1"/>
<rect x="540.75" y="210.0" width="2.0" height="12.5" fill="#ef5350"/>
<line x1="544.90" y1="214.8" x2="544.90" y2="223.5" stroke="#26a69a" stroke-width="1"/>
<rect x="543.90" y="217.7" width="2.0" height="3.8" fill="#26a69a"/>
<line x1="548.05" y1="216.5" x2="548.05" y2="222.0" stroke="#ef5350" stroke-width="1"/>
<rect x="547.05" y="217.7" width="2.0" height="2.9" fill="#ef5350"/>
<line x1="551.20" y1="214.5" x2="551.20" y2="221.5" stroke="#26a69a" stroke-width="1"/>
<rect x="550.20" y="215.7" width="2.0" height="4.9" fill="#26a69a"/>
<line x1="554.35" y1="210.8" x2="554.35" y2="218.7" stroke="#26a69a" stroke-width="1"/>
<rect x="553.35" y="211.9" width="2.0" height="5.8" fill="#26a69a"/>
<line x1="557.50" y1="202.0" x2="557.50" y2="218.7" stroke="#26a69a" stroke-width="1"/>
<rect x="556.50" y="204.0" width="2.0" height="13.7" fill="#26a69a"/>
<line x1="560.65" y1="204.0" x2="560.65" y2="214.0" stroke="#26a69a" stroke-width="1"/>
<rect x="559.65" y="205.0" width="2.0" height="7.8" fill="#26a69a"/>
<line x1="563.80" y1="205.0" x2="563.80" y2="214.0" stroke="#ef5350" stroke-width="1"/>
<rect x="562.80" y="206.0" width="2.0" height="6.8" fill="#ef5350"/>
<line x1="566.95" y1="208.0" x2="566.95" y2="219.0" stroke="#ef5350" stroke-width="1"/>
<rect x="565.95" y="209.0" width="2.0" height="8.7" fill="#ef5350"/>
<line x1="570.10" y1="213.5" x2="570.10" y2="220.0" stroke="#ef5350" stroke-width="1"/>
<rect x="569.10" y="214.8" width="2.0" height="3.8" fill="#ef5350"/>
<line x1="573.25" y1="212.8" x2="573.25" y2="221.0" stroke="#ef5350" stroke-width="1"/>
<rect x="572.25" y="214.8" width="2.0" height="4.8" fill="#ef5350"/>
<line x1="576.40" y1="211.0" x2="576.40" y2="222.0" stroke="#ef5350" stroke-width="1"/>
<rect x="575.40" y="212.0" width="2.0" height="8.6" fill="#ef5350"/>
<line x1="579.55" y1="216.5" x2="579.55" y2="230.3" stroke="#ef5350" stroke-width="1"/>
<rect x="578.55" y="217.7" width="2.0" height="9.6" fill="#ef5350"/>
<line x1="582.70" y1="225.5" x2="582.70" y2="247.0" stroke="#ef5350" stroke-width="1"/>
<rect x="581.70" y="226.4" width="2.0" height="19.3" fill="#ef5350"/>
<line x1="585.85" y1="238.0" x2="585.85" y2="249.6" stroke="#26a69a" stroke-width="1"/>
<rect x="584.85" y="241.9" width="2.0" height="2.9" fill="#26a69a"/>
<line x1="589.00" y1="240.5" x2="589.00" y2="258.3" stroke="#ef5350" stroke-width="1"/>
<rect x="588.00" y="241.9" width="2.0" height="14.5" fill="#ef5350"/>
<line x1="592.15" y1="240.5" x2="592.15" y2="257.5" stroke="#26a69a" stroke-width="1"/>
<rect x="591.15" y="241.9" width="2.0" height="14.5" fill="#26a69a"/>
<line x1="595.30" y1="241.5" x2="595.30" y2="259.5" stroke="#ef5350" stroke-width="1"/>
<rect x="594.30" y="242.9" width="2.0" height="15.4" fill="#ef5350"/>
<line x1="598.45" y1="245.7" x2="598.45" y2="256.0" stroke="#26a69a" stroke-width="1"/>
<rect x="597.45" y="247.7" width="2.0" height="6.7" fill="#26a69a"/>
<line x1="601.60" y1="242.9" x2="601.60" y2="255.0" stroke="#ef5350" stroke-width="1"/>
<rect x="600.60" y="247.7" width="2.0" height="5.8" fill="#ef5350"/>
<line x1="604.75" y1="249.5" x2="604.75" y2="264.0" stroke="#ef5350" stroke-width="1"/>
<rect x="603.75" y="250.6" width="2.0" height="7.7" fill="#ef5350"/>
<line x1="607.90" y1="256.0" x2="607.90" y2="277.6" stroke="#ef5350" stroke-width="1"/>
<rect x="606.90" y="257.3" width="2.0" height="14.5" fill="#ef5350"/>
<line x1="611.05" y1="263.5" x2="611.05" y2="273.0" stroke="#26a69a" stroke-width="1"/>
<rect x="610.05" y="265.0" width="2.0" height="6.8" fill="#26a69a"/>
<line x1="614.20" y1="264.0" x2="614.20" y2="280.5" stroke="#ef5350" stroke-width="1"/>
<rect x="613.20" y="265.0" width="2.0" height="11.7" fill="#ef5350"/>
<line x1="617.35" y1="261.2" x2="617.35" y2="269.5" stroke="#26a69a" stroke-width="1"/>
<rect x="616.35" y="263.0" width="2.0" height="5.0" fill="#26a69a"/>
<line x1="620.50" y1="257.0" x2="620.50" y2="271.5" stroke="#26a69a" stroke-width="1"/>
<rect x="619.50" y="258.3" width="2.0" height="11.7" fill="#26a69a"/>
<line x1="623.65" y1="257.0" x2="623.65" y2="269.5" stroke="#ef5350" stroke-width="1"/>
<rect x="622.65" y="258.3" width="2.0" height="9.7" fill="#ef5350"/>
<line x1="626.80" y1="257.0" x2="626.80" y2="273.0" stroke="#26a69a" stroke-width="1"/>
<rect x="625.80" y="258.3" width="2.0" height="13.5" fill="#26a69a"/>
<line x1="629.95" y1="257.0" x2="629.95" y2="267.5" stroke="#ef5350" stroke-width="1"/>
<rect x="628.95" y="258.3" width="2.0" height="7.7" fill="#ef5350"/>
<line x1="633.10" y1="250.0" x2="633.10" y2="264.5" stroke="#26a69a" stroke-width="1"/>
<rect x="632.10" y="251.5" width="2.0" height="11.5" fill="#26a69a"/>
<line x1="636.25" y1="246.7" x2="636.25" y2="255.0" stroke="#ef5350" stroke-width="1"/>
<rect x="635.25" y="249.6" width="2.0" height="3.9" fill="#ef5350"/>
<line x1="639.40" y1="245.7" x2="639.40" y2="253.5" stroke="#26a69a" stroke-width="1"/>
<rect x="638.40" y="247.7" width="2.0" height="3.8" fill="#26a69a"/>
<line x1="642.55" y1="243.5" x2="642.55" y2="252.5" stroke="#26a69a" stroke-width="1"/>
<rect x="641.55" y="244.8" width="2.0" height="6.7" fill="#26a69a"/>
<line x1="645.70" y1="244.5" x2="645.70" y2="250.0" stroke="#ef5350" stroke-width="1"/>
<rect x="644.70" y="245.7" width="2.0" height="2.9" fill="#ef5350"/>
<line x1="648.85" y1="244.5" x2="648.85" y2="255.0" stroke="#26a69a" stroke-width="1"/>
<rect x="647.85" y="245.7" width="2.0" height="7.8" fill="#26a69a"/>
<line x1="652.00" y1="237.0" x2="652.00" y2="251.5" stroke="#26a69a" stroke-width="1"/>
<rect x="651.00" y="243.8" width="2.0" height="3.9" fill="#26a69a"/>
<line x1="655.15" y1="242.5" x2="655.15" y2="249.0" stroke="#ef5350" stroke-width="1"/>
<rect x="654.15" y="243.8" width="2.0" height="3.9" fill="#ef5350"/>
<line x1="658.30" y1="230.3" x2="658.30" y2="249.0" stroke="#26a69a" stroke-width="1"/>
<rect x="657.30" y="236.0" width="2.0" height="11.7" fill="#26a69a"/>
<line x1="661.45" y1="231.3" x2="661.45" y2="237.5" stroke="#26a69a" stroke-width="1"/>
<rect x="660.45" y="233.0" width="2.0" height="3.0" fill="#26a69a"/>
<line x1="664.60" y1="229.0" x2="664.60" y2="242.5" stroke="#ef5350" stroke-width="1"/>
<rect x="663.60" y="230.3" width="2.0" height="10.7" fill="#ef5350"/>
<line x1="667.75" y1="235.0" x2="667.75" y2="244.0" stroke="#ef5350" stroke-width="1"/>
<rect x="666.75" y="236.0" width="2.0" height="6.9" fill="#ef5350"/>
<line x1="670.90" y1="239.5" x2="670.90" y2="245.0" stroke="#26a69a" stroke-width="1"/>
<rect x="669.90" y="241.0" width="2.0" height="2.8" fill="#26a69a"/>
<line x1="674.05" y1="232.0" x2="674.05" y2="253.0" stroke="#ef5350" stroke-width="1"/>
<rect x="673.05" y="241.9" width="2.0" height="9.6" fill="#ef5350"/>
<line x1="677.20" y1="239.0" x2="677.20" y2="253.5" stroke="#26a69a" stroke-width="1"/>
<rect x="676.20" y="249.6" width="2.0" height="2.9" fill="#26a69a"/>
<line x1="680.35" y1="243.5" x2="680.35" y2="260.0" stroke="#26a69a" stroke-width="1"/>
<rect x="679.35" y="244.8" width="2.0" height="5.8" fill="#26a69a"/>
<line x1="683.50" y1="236.0" x2="683.50" y2="246.0" stroke="#26a69a" stroke-width="1"/>
<rect x="682.50" y="240.0" width="2.0" height="4.8" fill="#26a69a"/>
<line x1="686.65" y1="239.0" x2="686.65" y2="249.0" stroke="#ef5350" stroke-width="1"/>
<rect x="685.65" y="240.0" width="2.0" height="7.7" fill="#ef5350"/>
<line x1="689.80" y1="244.5" x2="689.80" y2="253.5" stroke="#ef5350" stroke-width="1"/>
<rect x="688.80" y="245.7" width="2.0" height="2.9" fill="#ef5350"/>
<line x1="692.95" y1="243.5" x2="692.95" y2="250.0" stroke="#ef5350" stroke-width="1"/>
<rect x="691.95" y="244.8" width="2.0" height="3.8" fill="#ef5350"/>
<line x1="696.10" y1="239.0" x2="696.10" y2="253.0" stroke="#ef5350" stroke-width="1"/>
<rect x="695.10" y="247.7" width="2.0" height="3.8" fill="#ef5350"/>
<line x1="699.25" y1="242.5" x2="699.25" y2="252.5" stroke="#26a69a" stroke-width="1"/>
<rect x="698.25" y="243.8" width="2.0" height="7.7" fill="#26a69a"/>
<line x1="702.40" y1="235.5" x2="702.40" y2="249.0" stroke="#26a69a" stroke-width="1"/>
<rect x="701.40" y="237.0" width="2.0" height="9.0" fill="#26a69a"/>
<line x1="705.55" y1="231.0" x2="705.55" y2="239.0" stroke="#26a69a" stroke-width="1"/>
<rect x="704.55" y="232.4" width="2.0" height="5.3" fill="#26a69a"/>
<line x1="708.70" y1="228.7" x2="708.70" y2="236.0" stroke="#ef5350" stroke-width="1"/>
<rect x="707.70" y="231.8" width="2.0" height="3.0" fill="#ef5350"/>
<line x1="711.85" y1="231.0" x2="711.85" y2="245.0" stroke="#ef5350" stroke-width="1"/>
<rect x="710.85" y="232.0" width="2.0" height="8.6" fill="#ef5350"/>
<line x1="715.00" y1="233.5" x2="715.00" y2="241.0" stroke="#26a69a" stroke-width="1"/>
<rect x="714.00" y="234.8" width="2.0" height="4.8" fill="#26a69a"/>
<line x1="718.15" y1="237.0" x2="718.15" y2="246.0" stroke="#ef5350" stroke-width="1"/>
<rect x="717.15" y="238.2" width="2.0" height="6.3" fill="#ef5350"/>
<line x1="721.30" y1="241.0" x2="721.30" y2="248.5" stroke="#ef5350" stroke-width="1"/>
<rect x="720.30" y="242.2" width="2.0" height="4.8" fill="#ef5350"/>
<line x1="724.45" y1="241.3" x2="724.45" y2="252.5" stroke="#ef5350" stroke-width="1"/>
<rect x="723.45" y="246.0" width="2.0" height="5.0" fill="#ef5350"/>
<line x1="727.60" y1="245.0" x2="727.60" y2="251.0" stroke="#26a69a" stroke-width="1"/>
<rect x="726.60" y="248.0" width="2.0" height="2.0" fill="#26a69a"/>
<line x1="730.75" y1="246.5" x2="730.75" y2="257.0" stroke="#26a69a" stroke-width="1"/>
<rect x="729.75" y="248.0" width="2.0" height="7.7" fill="#26a69a"/>
<line x1="733.90" y1="246.0" x2="733.90" y2="260.0" stroke="#ef5350" stroke-width="1"/>
<rect x="732.90" y="247.0" width="2.0" height="11.6" fill="#ef5350"/>
<line x1="737.05" y1="257.5" x2="737.05" y2="269.5" stroke="#ef5350" stroke-width="1"/>
<rect x="736.05" y="258.6" width="2.0" height="9.7" fill="#ef5350"/>
<line x1="740.20" y1="267.0" x2="740.20" y2="284.0" stroke="#ef5350" stroke-width="1"/>
<rect x="739.20" y="268.3" width="2.0" height="14.5" fill="#ef5350"/>
<line x1="743.35" y1="274.0" x2="743.35" y2="284.7" stroke="#26a69a" stroke-width="1"/>
<rect x="742.35" y="276.0" width="2.0" height="6.8" fill="#26a69a"/>
<line x1="746.50" y1="274.0" x2="746.50" y2="285.0" stroke="#ef5350" stroke-width="1"/>
<rect x="745.50" y="275.0" width="2.0" height="8.8" fill="#ef5350"/>
<line x1="749.65" y1="272.0" x2="749.65" y2="281.5" stroke="#26a69a" stroke-width="1"/>
<rect x="748.65" y="273.1" width="2.0" height="6.9" fill="#26a69a"/>
<line x1="752.80" y1="271.0" x2="752.80" y2="284.0" stroke="#26a69a" stroke-width="1"/>
<rect x="751.80" y="272.2" width="2.0" height="10.6" fill="#26a69a"/>
<line x1="755.95" y1="271.2" x2="755.95" y2="292.0" stroke="#ef5350" stroke-width="1"/>
<rect x="754.95" y="273.0" width="2.0" height="17.5" fill="#ef5350"/>
<line x1="759.10" y1="284.5" x2="759.10" y2="294.0" stroke="#ef5350" stroke-width="1"/>
<rect x="758.10" y="285.7" width="2.0" height="7.7" fill="#ef5350"/>
<line x1="762.25" y1="281.5" x2="762.25" y2="294.4" stroke="#26a69a" stroke-width="1"/>
<rect x="761.25" y="282.8" width="2.0" height="9.7" fill="#26a69a"/>
<line x1="765.40" y1="280.5" x2="765.40" y2="288.0" stroke="#ef5350" stroke-width="1"/>
<rect x="764.40" y="281.8" width="2.0" height="4.9" fill="#ef5350"/>
<line x1="768.55" y1="280.5" x2="768.55" y2="287.0" stroke="#26a69a" stroke-width="1"/>
<rect x="767.55" y="281.8" width="2.0" height="3.9" fill="#26a69a"/>
<line x1="771.70" y1="280.0" x2="771.70" y2="286.0" stroke="#26a69a" stroke-width="1"/>
<rect x="770.70" y="281.0" width="2.0" height="3.7" fill="#26a69a"/>
<line x1="774.85" y1="267.3" x2="774.85" y2="283.0" stroke="#26a69a" stroke-width="1"/>
<rect x="773.85" y="271.2" width="2.0" height="10.6" fill="#26a69a"/>
<line x1="4.5" y1="186.4" x2="855.5" y2="186.4" stroke="#000" stroke-width="1.6"/>
<line x1="4.5" y1="196.3" x2="855.5" y2="196.3" stroke="#000" stroke-width="1.6"/>
<line x1="4.5" y1="293.7" x2="855.5" y2="293.7" stroke="#000" stroke-width="1.6"/>
<line x1="4.5" y1="300.1" x2="855.5" y2="300.1" stroke="#000" stroke-width="1.6"/>
<polyline points="5.6,335.6 10,332.2 15.6,330.4 19.6,337.1 24.4,341.1 27.8,341.6 34.4,350 41.1,349.6 44.4,351.1 47.8,346.7 53.3,349.3 57.3,346.2 60.4,348.9 64.4,356.7 67.8,359.3 72.2,352.9 75.6,360.7 78.9,357.3 81.1,358.4 85.6,353.3 90,357.8 95.1,361.8 97.8,348.9 104.4,352.2 107.8,350.7 110.7,352.2 114.4,347.8 121.1,350 128.9,345.6 133.3,352.9 138.9,355.6 142.2,347.8 148.4,338.9 156.7,344.4 160.4,343.3 164.4,345.6 170,347.8 179.6,342.9 183.3,353.3 187.8,360.7 195.6,362.2 200,360.7 205.6,363.3 210,363.8 214.4,365.6 217.3,360 221.1,362.9 224,361.1 227.8,356.7 232.2,356 235.6,356.2 240,357.3 247.8,357.1 252.2,363.8 255.6,359.3 259.6,358.9 263.3,353.3 267.8,344.4 273.3,341.1 278.9,336.2 284.4,331.6 288.9,330.4 292.9,326.2 296,336.7 300,336.2 304.4,333.3 307.8,332.9 310,326.7 315.6,323.3 321.1,321.1 324.4,319.6 327.8,326.2 333.3,321.6 337.3,322.9 342.2,320.4 346.7,321.1 351.1,325.1 355.6,320.4 362.2,331.1 368.9,330 372.2,336.2 377.8,334.4 384.4,340 391.1,333.3 394.4,340 400,338.2 403.3,350 408.9,355.6 412.2,355.6 415.6,349.6 420,346.7 425.6,343.8 431.6,350.4 435.1,347.3 437.8,340.7 441.1,348.9 445.6,350.7 450.7,352.2 453.8,357.8 458.9,353.3 462.9,348.4 467.8,352.2 472.2,354.4 475.6,347.3 480,350 484.4,344.4 488.9,348.2 497.8,345.1 502.2,341.1 506.7,335.6 511.1,340 515.6,339.3 520,332.2 524.4,329.3 527.1,330 533.3,339.3 536,341.1 538.9,338.2 542.2,342.9 548.4,342.2 553.3,340.7 560.4,335.1 565.6,340 570.7,342.7 576.7,342.7 582.7,356.7 585.6,355.1 588.9,359.3 592.2,351.8 595.6,355.1 600,351.8 604.4,354.9 608.9,359.3 612.2,358.2 615.6,357.8 620.4,350.7 623.3,355.1 627.1,348.2 630,350 633.8,343.3 637.8,344.4 643.3,341.6 648.4,341.8 652.9,339.6 655.1,340.4 658.9,334 661.8,333.3 665.6,335.6 668.4,339.6 671.6,339.6 674.4,345.1 678.9,344 684,338.4 687.8,342.9 695.6,345.1 701.1,336.2 705.6,332.2 710,334.9 714.4,338.4 722.2,345.1 726.7,346.7 731.1,345.1 735.6,353.3 740.4,363.3 743.3,358.4 746.7,360 750,354.4 752.9,354.4 755.6,360 758.9,362.2 762.2,355.6 768.9,354.4 772.2,351.1 774.9,345.1" fill="none" stroke="#ab47bc" stroke-width="1.15" stroke-linejoin="round"/>
<text x="10.7" y="331.2" font-size="8.3" fill="#626366">RSI (14, close)</text>
<text x="10.40" y="46" font-size="9.2" font-weight="bold" fill="#58595e" textLength="153.02" lengthAdjust="spacingAndGlyphs" >Euro / New Zealand Dollar, 1h, FXCM</text>
<rect x="4.5" y="30.5" width="891" height="358" fill="none" stroke="#86878b" stroke-width="1"/>
<line x1="855.5" y1="30.5" x2="855.5" y2="388.5" stroke="#86878b" stroke-width="1"/>
<line x1="4.5" y1="316" x2="895.5" y2="316" stroke="#86878b" stroke-width="1.1"/>
<line x1="4.5" y1="369.5" x2="895.5" y2="369.5" stroke="#86878b" stroke-width="1"/>
<line x1="855.5" y1="49.1" x2="859" y2="49.1" stroke="#86878b" stroke-width="1"/>
<text x="862.20" y="51.9" font-size="8.4" fill="#4a4d55" textLength="26.60" lengthAdjust="spacingAndGlyphs" >1.75500</text>
<line x1="855.5" y1="74.1" x2="859" y2="74.1" stroke="#86878b" stroke-width="1"/>
<text x="862.20" y="76.9" font-size="8.4" fill="#4a4d55" textLength="26.60" lengthAdjust="spacingAndGlyphs" >1.75000</text>
<line x1="855.5" y1="99.1" x2="859" y2="99.1" stroke="#86878b" stroke-width="1"/>
<text x="862.20" y="101.9" font-size="8.4" fill="#4a4d55" textLength="26.60" lengthAdjust="spacingAndGlyphs" >1.74500</text>
<line x1="855.5" y1="124.1" x2="859" y2="124.1" stroke="#86878b" stroke-width="1"/>
<text x="862.20" y="126.9" font-size="8.4" fill="#4a4d55" textLength="26.60" lengthAdjust="spacingAndGlyphs" >1.74000</text>
<line x1="855.5" y1="149.1" x2="859" y2="149.1" stroke="#86878b" stroke-width="1"/>
<text x="862.20" y="151.9" font-size="8.4" fill="#4a4d55" textLength="26.60" lengthAdjust="spacingAndGlyphs" >1.73500</text>
<line x1="855.5" y1="174.1" x2="859" y2="174.1" stroke="#86878b" stroke-width="1"/>
<text x="862.20" y="176.9" font-size="8.4" fill="#4a4d55" textLength="26.60" lengthAdjust="spacingAndGlyphs" >1.73000</text>
<line x1="855.5" y1="224.1" x2="859" y2="224.1" stroke="#86878b" stroke-width="1"/>
<text x="862.20" y="226.9" font-size="8.4" fill="#4a4d55" textLength="26.60" lengthAdjust="spacingAndGlyphs" >1.72000</text>
<line x1="855.5" y1="249.1" x2="859" y2="249.1" stroke="#86878b" stroke-width="1"/>
<text x="862.20" y="251.9" font-size="8.4" fill="#4a4d55" textLength="26.60" lengthAdjust="spacingAndGlyphs" >1.71500</text>
<rect x="865.4" y="35.5" width="19.5" height="12.1" rx="2.5" fill="#fff" stroke="#d1d4dc" stroke-width="0.9"/>
<text x="868.30" y="44.5" font-size="7.6" fill="#4a4d55" textLength="13.90" lengthAdjust="spacingAndGlyphs" >NZD</text>
<rect x="856" y="180.8" width="39" height="23.8" fill="#000"/>
<text x="862.20" y="189.3" font-size="8.4" font-weight="bold" fill="#fff" textLength="26.60" lengthAdjust="spacingAndGlyphs" >1.72752</text>
<text x="862.20" y="201.3" font-size="8.4" font-weight="bold" fill="#fff" textLength="26.60" lengthAdjust="spacingAndGlyphs" >1.72554</text>
<line x1="856" y1="186.5" x2="859" y2="186.5" stroke="#888" stroke-width="1"/>
<line x1="856" y1="196.3" x2="859" y2="196.3" stroke="#888" stroke-width="1"/>
<rect x="855.7" y="267" width="39.7" height="11.8" fill="#26a69a"/>
<text x="862.20" y="275.6" font-size="8.4" font-weight="bold" fill="#fff" textLength="26.60" lengthAdjust="spacingAndGlyphs" >1.71030</text>
<line x1="856" y1="272.8" x2="859" y2="272.8" stroke="#bfe5e1" stroke-width="1"/>
<rect x="856" y="288.3" width="39" height="23.4" fill="#000"/>
<text x="862.20" y="296.8" font-size="8.4" font-weight="bold" fill="#fff" textLength="26.60" lengthAdjust="spacingAndGlyphs" >1.70602</text>
<text x="862.20" y="308.8" font-size="8.4" font-weight="bold" fill="#fff" textLength="26.60" lengthAdjust="spacingAndGlyphs" >1.70475</text>
<line x1="856" y1="293.7" x2="859" y2="293.7" stroke="#888" stroke-width="1"/>
<line x1="856" y1="300.1" x2="859" y2="300.1" stroke="#888" stroke-width="1"/>
<line x1="855.5" y1="319.4" x2="859" y2="319.4" stroke="#86878b" stroke-width="1"/>
<text x="862.20" y="322.2" font-size="8.4" fill="#4a4d55" textLength="19.08" lengthAdjust="spacingAndGlyphs" >75.00</text>
<line x1="855.5" y1="341.2" x2="859" y2="341.2" stroke="#86878b" stroke-width="1"/>
<text x="862.20" y="344.0" font-size="8.4" fill="#4a4d55" textLength="19.08" lengthAdjust="spacingAndGlyphs" >50.00</text>
<line x1="855.5" y1="363.9" x2="859" y2="363.9" stroke="#86878b" stroke-width="1"/>
<text x="862.20" y="366.7" font-size="8.4" fill="#4a4d55" textLength="19.08" lengthAdjust="spacingAndGlyphs" >25.00</text>
<line x1="28.3" y1="369.5" x2="28.3" y2="371.6" stroke="#86878b" stroke-width="1"/>
<text x="28.3" y="382" font-size="8.2" fill="#4a4d55" text-anchor="middle">9</text>
<line x1="104.5" y1="369.5" x2="104.5" y2="371.6" stroke="#86878b" stroke-width="1"/>
<text x="104.5" y="382" font-size="8.2" fill="#4a4d55" text-anchor="middle">10</text>
<line x1="179.5" y1="369.5" x2="179.5" y2="371.6" stroke="#86878b" stroke-width="1"/>
<text x="179.5" y="382" font-size="8.2" fill="#4a4d55" text-anchor="middle">11</text>
<line x1="255" y1="369.5" x2="255" y2="371.6" stroke="#86878b" stroke-width="1"/>
<text x="255" y="382" font-size="8.2" fill="#4a4d55" text-anchor="middle">12</text>
<line x1="330.75" y1="369.5" x2="330.75" y2="371.6" stroke="#86878b" stroke-width="1"/>
<text x="330.75" y="382" font-size="8.2" fill="#4a4d55" text-anchor="middle">13</text>
<line x1="406.25" y1="369.5" x2="406.25" y2="371.6" stroke="#86878b" stroke-width="1"/>
<text x="406.25" y="382" font-size="8.2" fill="#4a4d55" text-anchor="middle">16</text>
<line x1="482" y1="369.5" x2="482" y2="371.6" stroke="#86878b" stroke-width="1"/>
<text x="482" y="382" font-size="8.2" fill="#4a4d55" text-anchor="middle">17</text>
<line x1="557.5" y1="369.5" x2="557.5" y2="371.6" stroke="#86878b" stroke-width="1"/>
<text x="557.5" y="382" font-size="8.2" fill="#4a4d55" text-anchor="middle">18</text>
<line x1="633.25" y1="369.5" x2="633.25" y2="371.6" stroke="#86878b" stroke-width="1"/>
<text x="633.25" y="382" font-size="8.2" fill="#4a4d55" text-anchor="middle">19</text>
<line x1="708.75" y1="369.5" x2="708.75" y2="371.6" stroke="#86878b" stroke-width="1"/>
<text x="708.75" y="382" font-size="8.2" fill="#4a4d55" text-anchor="middle">20</text>
<line x1="784.25" y1="369.5" x2="784.25" y2="371.6" stroke="#86878b" stroke-width="1"/>
<text x="784.25" y="382" font-size="8.2" fill="#4a4d55" text-anchor="middle">23</text>
<g fill="#2196f3"><circle cx="6.8" cy="402.6" r="3.1"/><circle cx="12" cy="399.8" r="4.1"/><circle cx="19.2" cy="402.3" r="3.6"/><rect x="6.8" y="400" width="12.4" height="5.9"/></g>
<polyline points="5.9,403.7 11.1,399.6 15.5,403.7 20.3,399.8" fill="none" stroke="#fff" stroke-width="1"/>
<text x="24.40" y="404.4" font-size="9.6" fill="#131722" textLength="49.38" lengthAdjust="spacingAndGlyphs" >TradingView</text>
</svg></body></html>
